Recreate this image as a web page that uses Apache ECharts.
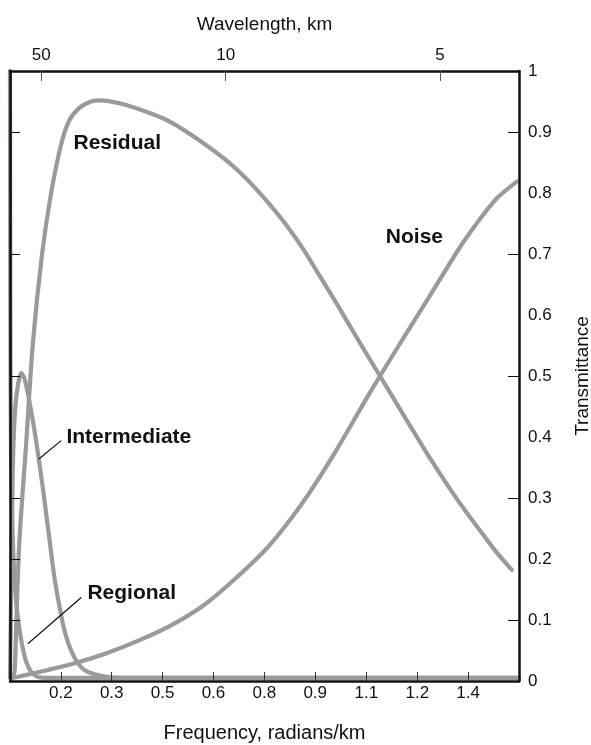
<!DOCTYPE html>
<html>
<head>
<meta charset="utf-8">
<script src="https://cdn.jsdelivr.net/npm/echarts@6/dist/echarts.min.js"></script>
<style>
  html, body { margin: 0; padding: 0; background: #fff; }
  #chart { width: 591px; height: 745px; }
</style>
</head>
<body>
<div id="chart"></div>
<script>
// Frequency axis (radians/km) and its tick marks
const freqMin = 0;
const freqMax = 1.571;
const freqTickPos = [0.157, 0.314, 0.471, 0.628, 0.785, 0.942, 1.100, 1.257, 1.414];
const freqTickLabels = ['0.2', '0.3', '0.5', '0.6', '0.8', '0.9', '1.1', '1.2', '1.4'];

// Wavelength ticks on the top edge (placed on the frequency scale)
const waveTickPos = [0.0964, 0.6657, 1.3274];
const waveTickLabels = ['50', '10', '5'];

// Transmittance ticks
const leftTickPos = [0.1, 0.2, 0.3, 0.5, 0.7, 0.9];
const rightTickPos = [0.1, 0.3, 0.5, 0.7, 0.9];

// Filter transmittance curves: [frequency, transmittance]
const regional = [
  [0, 1.0], [0.001, 0.62], [0.003, 0.38], [0.008, 0.24], [0.015, 0.16],
  [0.023, 0.11], [0.036, 0.063], [0.051, 0.030], [0.070, 0.012],
  [0.091, 0.006], [0.137, 0.005], [1.571, 0.005]
];
const intermediate = [
  [0, 0.005], [0.003, 0.13], [0.008, 0.33], [0.014, 0.43], [0.023, 0.48],
  [0.035, 0.505], [0.045, 0.495], [0.060, 0.458], [0.076, 0.409],
  [0.091, 0.356], [0.107, 0.294], [0.122, 0.231], [0.137, 0.170],
  [0.153, 0.121], [0.168, 0.083], [0.184, 0.056], [0.205, 0.033],
  [0.230, 0.018], [0.277, 0.009], [0.338, 0.005], [1.571, 0.005]
];
const residual = [
  [0.005, 0.005], [0.014, 0.015], [0.019, 0.09], [0.029, 0.23], [0.050, 0.39],
  [0.070, 0.55], [0.099, 0.70], [0.127, 0.80], [0.158, 0.88], [0.184, 0.92],
  [0.215, 0.94], [0.250, 0.950], [0.277, 0.952], [0.338, 0.947],
  [0.431, 0.931], [0.500, 0.915], [0.585, 0.886], [0.678, 0.849],
  [0.750, 0.812], [0.833, 0.761], [0.900, 0.712], [0.956, 0.664],
  [1.000, 0.626], [1.095, 0.541], [1.142, 0.500], [1.200, 0.449],
  [1.256, 0.400], [1.300, 0.362], [1.358, 0.315], [1.400, 0.283],
  [1.460, 0.240], [1.500, 0.212], [1.549, 0.182]
];
const noise = [
  [0.008, 0.005], [0.100, 0.016], [0.200, 0.029], [0.300, 0.046],
  [0.400, 0.067], [0.500, 0.092], [0.600, 0.125], [0.700, 0.170],
  [0.800, 0.222], [0.900, 0.290], [1.000, 0.372], [1.100, 0.463],
  [1.142, 0.500], [1.200, 0.550], [1.300, 0.635], [1.400, 0.720],
  [1.500, 0.790], [1.565, 0.819]
];

// Curve names and where they are written
const curveLabels = [
  { text: 'Residual', at: [0.196, 0.881] },
  { text: 'Noise', at: [1.160, 0.727] },
  { text: 'Intermediate', at: [0.174, 0.399] },
  { text: 'Regional', at: [0.239, 0.144] }
];
const leaders = [
  { from: [0.158, 0.394], to: [0.089, 0.364] },
  { from: [0.220, 0.137], to: [0.055, 0.061] }
];

const FONT = '"Liberation Sans", Arial, Helvetica, sans-serif';
const CURVE = '#9a9a9a';
const FRAME = { show: true, onZero: false, lineStyle: { color: '#111', width: 2.5 } };

const chart = echarts.init(document.getElementById('chart'), null, { renderer: 'canvas' });

function curve(name, data) {
  return {
    name, type: 'line', data,
    xAxisIndex: 0, yAxisIndex: 0,
    showSymbol: false, smooth: 0.25,
    lineStyle: { color: CURVE, width: 4.2, cap: 'round', join: 'round' },
    z: 2, silent: true
  };
}

function nearestLabel(v, pos, labels) {
  let best = 0;
  for (let i = 1; i < pos.length; i++) {
    if (Math.abs(pos[i] - v) < Math.abs(pos[best] - v)) best = i;
  }
  return Math.abs(pos[best] - v) < 1e-3 ? labels[best] : '';
}

chart.setOption({
  animation: false,
  backgroundColor: '#fff',
  grid: { left: 10, top: 71, width: 509, height: 610, containLabel: false, outerBoundsMode: 'none' },
  xAxis: [
    {
      type: 'value', position: 'bottom', min: freqMin, max: freqMax, z: 5,
      axisLine: FRAME,
      axisTick: { show: true, inside: true, length: 9, customValues: freqTickPos,
                  lineStyle: { color: '#333', width: 1 } },
      axisLabel: { show: true, customValues: freqTickPos, margin: 4,
                   formatter: v => nearestLabel(v, freqTickPos, freqTickLabels),
                   color: '#111', fontFamily: FONT, fontSize: 17 },
      splitLine: { show: false },
      name: 'Frequency, radians/km', nameLocation: 'middle', nameGap: 42,
      nameTextStyle: { color: '#111', fontFamily: FONT, fontSize: 20 }
    },
    {
      type: 'value', position: 'top', min: freqMin, max: freqMax, z: 5,
      axisLine: FRAME,
      axisTick: { show: true, inside: true, length: 10, customValues: waveTickPos,
                  lineStyle: { color: '#555', width: 1 } },
      axisLabel: { show: true, customValues: waveTickPos, margin: 7,
                   formatter: v => nearestLabel(v, waveTickPos, waveTickLabels),
                   color: '#111', fontFamily: FONT, fontSize: 17 },
      splitLine: { show: false },
      name: 'Wavelength, km', nameLocation: 'middle', nameGap: 37,
      nameTextStyle: { color: '#111', fontFamily: FONT, fontSize: 19 }
    }
  ],
  yAxis: [
    {
      type: 'value', position: 'left', min: 0, max: 1, z: 5,
      axisLine: FRAME,
      axisTick: { show: true, inside: true, length: 10, customValues: leftTickPos,
                  lineStyle: { color: '#111', width: 1 } },
      axisLabel: { show: false },
      splitLine: { show: false }
    },
    {
      type: 'value', position: 'right', min: 0, max: 1, interval: 0.1, z: 5,
      axisLine: FRAME,
      axisTick: { show: true, inside: true, length: 11, customValues: rightTickPos,
                  lineStyle: { color: '#111', width: 1 } },
      axisLabel: { show: true, margin: 9, color: '#111', fontFamily: FONT, fontSize: 17,
                   formatter: v => String(Math.round(v * 10) / 10) },
      splitLine: { show: false },
      name: 'Transmittance', nameLocation: 'middle', nameGap: 54, nameRotate: 90,
      nameTextStyle: { color: '#111', fontFamily: FONT, fontSize: 19 }
    }
  ],
  series: [
    curve('Regional', regional),
    curve('Intermediate', intermediate),
    curve('Residual', residual),
    curve('Noise', noise)
  ]
});

// Curve names and leader lines, placed in data coordinates
const toPx = p => chart.convertToPixel({ gridIndex: 0 }, p);
const graphics = [];
curveLabels.forEach(l => {
  const p = toPx(l.at);
  graphics.push({
    type: 'text', x: p[0], y: p[1], z: 10,
    style: { text: l.text, fill: '#111', font: 'bold 21px ' + FONT,
             textAlign: 'left', textVerticalAlign: 'middle' }
  });
});
leaders.forEach(l => {
  const a = toPx(l.from), b = toPx(l.to);
  graphics.push({
    type: 'line', z: 10,
    shape: { x1: a[0], y1: a[1], x2: b[0], y2: b[1] },
    style: { stroke: '#111', lineWidth: 1.2 }
  });
});
chart.setOption({ graphic: graphics });
</script>
</body>
</html>
